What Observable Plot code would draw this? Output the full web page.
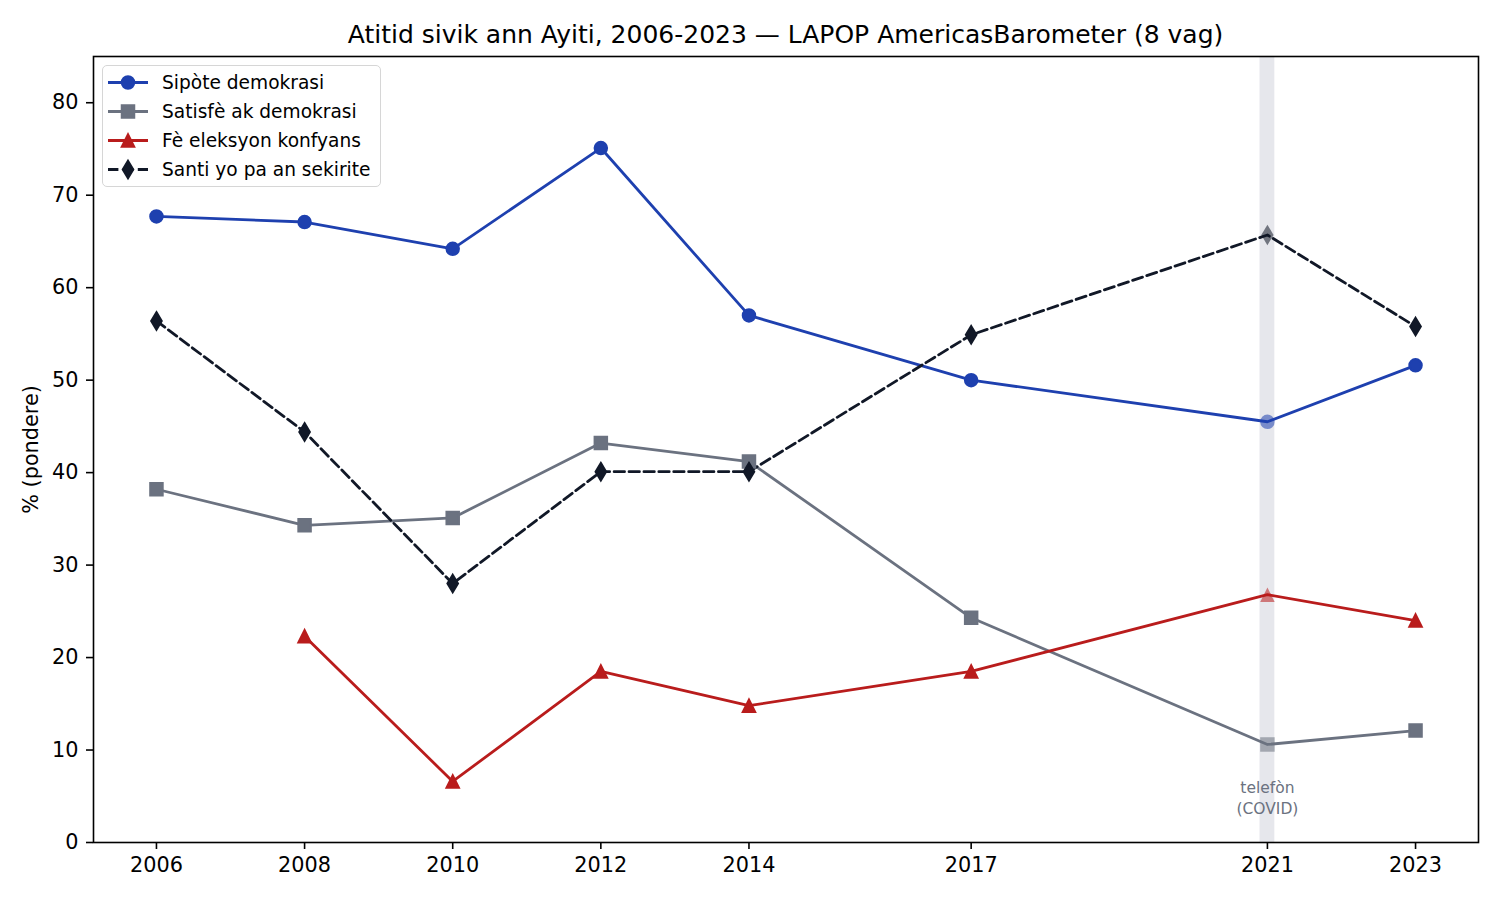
<!DOCTYPE html>
<html>
<head>
<meta charset="utf-8">
<script src="https://cdn.jsdelivr.net/npm/d3@7"></script>
<script src="https://cdn.jsdelivr.net/npm/@observablehq/plot@0.6"></script>
<style>
  html, body { margin: 0; padding: 0; background: #fff; }
  #wrap { position: relative; width: 1500px; height: 900px; font-family: "DejaVu Sans", sans-serif; }
  #title { position: absolute; left: 93px; width: 1385px; top: 20px; line-height: 30px; text-align: center; font-size: 25px; color: #000; }
  #chart { position: absolute; left: 0; top: 46px; }
  #legend { position: absolute; left: 102px; top: 65px; width: 279px; height: 122px; box-sizing: border-box;
            border: 1.5px solid #d6d6d6; border-radius: 5px; background: rgba(255,255,255,0.8); }
</style>
</head>
<body>
<div id="wrap">
  <div id="title">Atitid sivik ann Ayiti, 2006-2023 — LAPOP AmericasBarometer (8 vag)</div>
  <div id="chart"></div>
  <div id="legend"></div>
</div>
<script>
// Survey waves
const years = [2006, 2008, 2010, 2012, 2014, 2017, 2021, 2023];

// Weighted shares (%) per wave
const sipoteDemokrasi   = [67.7, 67.1, 64.2, 75.1, 57.0, 50.0, 45.5, 51.6];
const satisfeDemokrasi  = [38.2, 34.3, 35.1, 43.2, 41.2, 24.3, 10.6, 12.1];
const feEleksyon        = [null, 22.3, 6.6, 18.5, 14.8, 18.5, 26.8, 24.0];
const santiPaSekirite   = [56.4, 44.4, 28.0, 40.1, 40.1, 54.9, 65.7, 55.8];

const seriesNames = ["Sipòte demokrasi", "Satisfè ak demokrasi", "Fè eleksyon konfyans", "Santi yo pa an sekirite"];
const seriesValues = [sipoteDemokrasi, satisfeDemokrasi, feEleksyon, santiPaSekirite];
const seriesColors = ["#1e40af", "#6b7280", "#b91c1c", "#111827"];
const seriesDash = [null, null, null, "10.4,4.5"];

// The 2021 wave was run by phone during COVID
const phoneYear = 2021;
const phoneLabel = "telefòn\n(COVID)";

// Marker shapes sized like a matplotlib marker of diameter 2r
const mk = (fn) => ({ draw(ctx, size) { const r = Math.sqrt(size / Math.PI); fn(ctx, r); } });
const symCircle = mk((c, r) => { c.moveTo(r, 0); c.arc(0, 0, r, 0, 2 * Math.PI); c.closePath(); });
const symSquare = mk((c, r) => { c.rect(-r, -r, 2 * r, 2 * r); });
const symTriangle = mk((c, r) => { c.moveTo(0, -r); c.lineTo(r, r); c.lineTo(-r, r); c.closePath(); });
const symThinDiamond = mk((c, r) => { const h = r * Math.SQRT2, w = 0.6 * h; c.moveTo(0, -h); c.lineTo(w, 0); c.lineTo(0, h); c.lineTo(-w, 0); c.closePath(); });
const seriesSymbols = [symCircle, symSquare, symTriangle, symThinDiamond];

const markerR = 6.25;
const lineW = 2.8;

const rows = seriesNames.map((name, i) =>
  years.map((year, j) => ({ series: name, year, value: seriesValues[i][j] }))
       .filter(d => d.value != null)
);

const marks = [
  Plot.rect([{ x1: phoneYear - 0.1, x2: phoneYear + 0.1 }], { x1: "x1", x2: "x2", fill: "#e6e7ec" })
];
rows.forEach((data, i) => {
  marks.push(Plot.line(data, {
    x: "year", y: "value", stroke: seriesColors[i], strokeWidth: lineW,
    strokeDasharray: seriesDash[i] ?? undefined
  }));
});
rows.forEach((data, i) => {
  // in-person waves: solid markers
  marks.push(Plot.dot(data.filter(d => d.year !== phoneYear), {
    x: "year", y: "value", symbol: () => seriesSymbols[i], r: markerR,
    fill: seriesColors[i], stroke: seriesColors[i], strokeWidth: 2
  }));
  // phone wave: faded markers
  marks.push(Plot.dot(data.filter(d => d.year === phoneYear), {
    x: "year", y: "value", symbol: () => seriesSymbols[i], r: markerR + 1,
    fill: seriesColors[i], fillOpacity: 0.55
  }));
});
marks.push(
  Plot.text([{ x: phoneYear, y: 4.9, t: phoneLabel }], {
    x: "x", y: "y", text: "t", fill: "#6b7280", fontSize: 15.5, lineHeight: 1.35, lineAnchor: "middle"
  }),
  Plot.frame({ stroke: "#000", strokeWidth: 1.6 }),
  Plot.axisX({ ticks: years, tickFormat: d => String(d), tickSize: 7, tickPadding: 8, label: null, fontSize: 20.8, strokeWidth: 1.6 }),
  Plot.axisY({ ticks: d3.range(0, 81, 10), tickSize: 7, tickPadding: 8, label: "% (pondere)", labelAnchor: "center", labelArrow: "none", labelOffset: 70, fontSize: 20.8, strokeWidth: 1.6 })
);

const chart = Plot.plot({
  width: 1500,
  height: 854,
  marginTop: 10,
  marginBottom: 58,
  marginLeft: 93,
  marginRight: 22,
  style: { fontFamily: "DejaVu Sans, sans-serif", fontSize: "20.8px", color: "#000", background: "transparent", overflow: "visible" },
  x: { type: "linear", domain: [2005.15, 2023.85] },
  y: { domain: [0, 85] },
  marks
});
document.getElementById("chart").appendChild(chart);

// Legend box (top-left, inside the frame)
const legend = d3.select("#legend");
const lsvg = legend.append("svg").attr("width", 279).attr("height", 122).style("position", "absolute").style("left", "-1.5px").style("top", "-1.5px");
seriesNames.forEach((name, i) => {
  const cy = 17.5 + i * 29;
  const g = lsvg.append("g");
  g.append("line").attr("x1", 6).attr("x2", 46).attr("y1", cy).attr("y2", cy)
    .attr("stroke", seriesColors[i]).attr("stroke-width", lineW)
    .attr("stroke-dasharray", seriesDash[i]);
  g.append("path").attr("transform", `translate(26,${cy})`)
    .attr("d", d3.symbol().type(seriesSymbols[i]).size(Math.PI * markerR * markerR)())
    .attr("fill", seriesColors[i]).attr("stroke", seriesColors[i]).attr("stroke-width", 2);
  g.append("text").attr("x", 60).attr("y", cy).attr("dy", "0.35em")
    .attr("font-family", "DejaVu Sans, sans-serif").attr("font-size", 18.6).attr("fill", "#000")
    .text(name);
});
</script>
</body>
</html>
